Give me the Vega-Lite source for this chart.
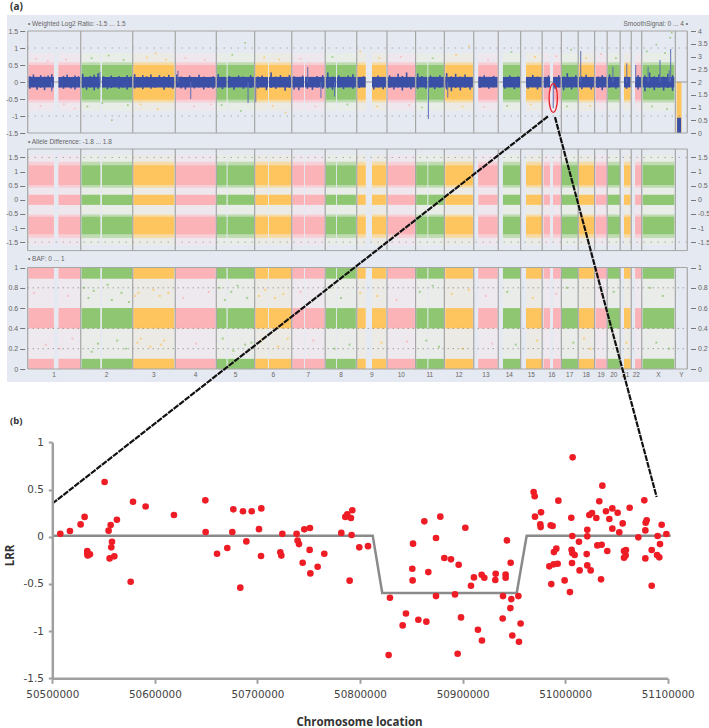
{"$schema":"https://vega.github.io/schema/vega-lite/v6.json","width":709,"height":728,"padding":0,"autosize":{"type":"none"},"background":"#ffffff","config":{"view":{"stroke":null},"axis":{"grid":false}},
"datasets":{
"frame":[{"x0":-97,"x1":3197,"y0":1.97,"y1":-8.82}],
"segs":[{"chrom":"1","start":3.8,"end":123,"state":"pink"},{"chrom":"1","start":144.5,"end":245.4,"state":"pink"},{"chrom":"2","start":253,"end":340.6,"state":"green"},{"chrom":"2","start":348.6,"end":489.4,"state":"green"},{"chrom":"3","start":495.5,"end":688,"state":"orange"},{"chrom":"4","start":694.4,"end":882,"state":"pink"},{"chrom":"5","start":886.8,"end":932.8,"state":"green"},{"chrom":"5","start":938.4,"end":1061.8,"state":"green"},{"chrom":"6","start":1068,"end":1127.5,"state":"orange"},{"chrom":"6","start":1132,"end":1235.4,"state":"orange"},{"chrom":"7","start":1241.5,"end":1296.4,"state":"pink"},{"chrom":"7","start":1301,"end":1393.5,"state":"pink"},{"chrom":"8","start":1399.6,"end":1446.6,"state":"green"},{"chrom":"8","start":1451,"end":1540,"state":"green"},{"chrom":"9","start":1546.5,"end":1586,"state":"orange"},{"chrom":"9","start":1615.4,"end":1681,"state":"orange"},{"chrom":"10","start":1689,"end":1817,"state":"pink"},{"chrom":"11","start":1823,"end":1875,"state":"green"},{"chrom":"11","start":1880,"end":1953,"state":"green"},{"chrom":"12","start":1959.4,"end":2089,"state":"orange"},{"chrom":"13","start":2114,"end":2205,"state":"pink"},{"chrom":"14","start":2230,"end":2310,"state":"green"},{"chrom":"15","start":2338,"end":2413,"state":"orange"},{"chrom":"16","start":2421,"end":2451,"state":"pink"},{"chrom":"16","start":2465,"end":2501,"state":"pink"},{"chrom":"17","start":2507,"end":2582,"state":"green"},{"chrom":"18","start":2586.6,"end":2657,"state":"orange"},{"chrom":"19","start":2665,"end":2717,"state":"pink"},{"chrom":"20","start":2722,"end":2779,"state":"green"},{"chrom":"21","start":2798,"end":2829,"state":"orange"},{"chrom":"22","start":2850,"end":2879,"state":"pink"},{"chrom":"X","start":2885.6,"end":3034,"state":"green"}],
"bounds":[{"pos":0},{"pos":248.7},{"pos":492.7},{"pos":692.5},{"pos":885},{"pos":1065},{"pos":1239},{"pos":1396},{"pos":1544},{"pos":1686},{"pos":1820},{"pos":1955},{"pos":2093},{"pos":2208},{"pos":2313},{"pos":2414},{"pos":2504},{"pos":2583},{"pos":2660},{"pos":2719},{"pos":2780},{"pos":2832},{"pos":2881},{"pos":3039},{"pos":3095}],
"labels":[{"name":"1","mid":124,"v":-0.06},{"name":"2","mid":370,"v":-0.06},{"name":"3","mid":592,"v":-0.06},{"name":"4","mid":788,"v":-0.06},{"name":"5","mid":975,"v":-0.06},{"name":"6","mid":1152,"v":-0.06},{"name":"7","mid":1317,"v":-0.06},{"name":"8","mid":1470,"v":-0.06},{"name":"9","mid":1615,"v":-0.06},{"name":"10","mid":1753,"v":-0.06},{"name":"11","mid":1887,"v":-0.06},{"name":"12","mid":2024,"v":-0.06},{"name":"13","mid":2150,"v":-0.06},{"name":"14","mid":2260,"v":-0.06},{"name":"15","mid":2363,"v":-0.06},{"name":"16","mid":2459,"v":-0.06},{"name":"17","mid":2543,"v":-0.06},{"name":"18","mid":2621,"v":-0.06},{"name":"19","mid":2690,"v":-0.06},{"name":"20","mid":2750,"v":-0.06},{"name":"21","mid":2806,"v":-0.06},{"name":"22","mid":2856,"v":-0.06},{"name":"X","mid":2960,"v":-0.06},{"name":"Y","mid":3067,"v":-0.06}],
"spikes":[{"pos":112.6,"v":-0.28},{"pos":339,"v":0.3},{"pos":705,"v":0.33},{"pos":765,"v":-0.5},{"pos":1034,"v":-0.62},{"pos":1070,"v":-0.6},{"pos":1314,"v":0.44},{"pos":1376,"v":-0.47},{"pos":1440,"v":-0.43},{"pos":1880,"v":-1.09},{"pos":1971,"v":-0.46},{"pos":2466,"v":-0.77},{"pos":2595,"v":0.91},{"pos":2746,"v":0.45},{"pos":2811,"v":0.55},{"pos":2853,"v":0.5},{"pos":2911,"v":0.45},{"pos":2967,"v":0.65},{"pos":3017,"v":0.97},{"pos":3010,"v":0.35}],
"jag":[{"pos":10,"lo":-0.2,"hi":0.17},{"pos":27,"lo":-0.15,"hi":0.22},{"pos":44,"lo":-0.23,"hi":0.14},{"pos":61,"lo":-0.17,"hi":0.2},{"pos":79,"lo":-0.24,"hi":0.16},{"pos":96,"lo":-0.14,"hi":0.19},{"pos":113,"lo":-0.21,"hi":0.23},{"pos":150,"lo":-0.16,"hi":0.14},{"pos":168,"lo":-0.2,"hi":0.18},{"pos":185,"lo":-0.13,"hi":0.21},{"pos":203,"lo":-0.19,"hi":0.15},{"pos":222,"lo":-0.22,"hi":0.19},{"pos":238,"lo":-0.15,"hi":0.17},{"pos":258,"lo":-0.18,"hi":0.24},{"pos":276,"lo":-0.23,"hi":0.15},{"pos":294,"lo":-0.16,"hi":0.18},{"pos":312,"lo":-0.24,"hi":0.21},{"pos":330,"lo":-0.2,"hi":0.26},{"pos":356,"lo":-0.16,"hi":0.17},{"pos":374,"lo":-0.21,"hi":0.14},{"pos":392,"lo":-0.18,"hi":0.19},{"pos":410,"lo":-0.14,"hi":0.15},{"pos":428,"lo":-0.2,"hi":0.18},{"pos":446,"lo":-0.17,"hi":0.14},{"pos":466,"lo":-0.22,"hi":0.2},{"pos":484,"lo":-0.15,"hi":0.16},{"pos":502,"lo":-0.19,"hi":0.23},{"pos":520,"lo":-0.16,"hi":0.15},{"pos":540,"lo":-0.21,"hi":0.2},{"pos":558,"lo":-0.15,"hi":0.17},{"pos":578,"lo":-0.2,"hi":0.22},{"pos":598,"lo":-0.17,"hi":0.15},{"pos":618,"lo":-0.14,"hi":0.2},{"pos":640,"lo":-0.23,"hi":0.17},{"pos":662,"lo":-0.16,"hi":0.21},{"pos":680,"lo":-0.2,"hi":0.14},{"pos":700,"lo":-0.15,"hi":0.22},{"pos":720,"lo":-0.19,"hi":0.16},{"pos":740,"lo":-0.22,"hi":0.14},{"pos":760,"lo":-0.15,"hi":0.19},{"pos":782,"lo":-0.19,"hi":0.15},{"pos":804,"lo":-0.16,"hi":0.21},{"pos":826,"lo":-0.22,"hi":0.16},{"pos":848,"lo":-0.17,"hi":0.13},{"pos":870,"lo":-0.2,"hi":0.17},{"pos":894,"lo":-0.16,"hi":0.23},{"pos":914,"lo":-0.21,"hi":0.15},{"pos":946,"lo":-0.17,"hi":0.18},{"pos":968,"lo":-0.23,"hi":0.14},{"pos":990,"lo":-0.15,"hi":0.19},{"pos":1012,"lo":-0.2,"hi":0.16},{"pos":1046,"lo":-0.18,"hi":0.2},{"pos":1080,"lo":-0.19,"hi":0.16},{"pos":1100,"lo":-0.15,"hi":0.19},{"pos":1120,"lo":-0.24,"hi":0.15},{"pos":1142,"lo":-0.18,"hi":0.28},{"pos":1164,"lo":-0.2,"hi":0.16},{"pos":1186,"lo":-0.15,"hi":0.2},{"pos":1208,"lo":-0.26,"hi":0.14},{"pos":1228,"lo":-0.17,"hi":0.21},{"pos":1250,"lo":-0.22,"hi":0.17},{"pos":1272,"lo":-0.24,"hi":0.14},{"pos":1290,"lo":-0.15,"hi":0.19},{"pos":1312,"lo":-0.2,"hi":0.16},{"pos":1336,"lo":-0.23,"hi":0.13},{"pos":1358,"lo":-0.17,"hi":0.18},{"pos":1384,"lo":-0.2,"hi":0.2},{"pos":1408,"lo":-0.19,"hi":0.28},{"pos":1430,"lo":-0.23,"hi":0.16},{"pos":1460,"lo":-0.16,"hi":0.2},{"pos":1482,"lo":-0.21,"hi":0.14},{"pos":1504,"lo":-0.15,"hi":0.19},{"pos":1526,"lo":-0.2,"hi":0.23},{"pos":1556,"lo":-0.18,"hi":0.14},{"pos":1576,"lo":-0.15,"hi":0.17},{"pos":1624,"lo":-0.22,"hi":0.15},{"pos":1644,"lo":-0.16,"hi":0.19},{"pos":1668,"lo":-0.21,"hi":0.14},{"pos":1698,"lo":-0.17,"hi":0.2},{"pos":1718,"lo":-0.22,"hi":0.15},{"pos":1738,"lo":-0.16,"hi":0.24},{"pos":1758,"lo":-0.25,"hi":0.18},{"pos":1778,"lo":-0.17,"hi":0.28},{"pos":1798,"lo":-0.21,"hi":0.15},{"pos":1830,"lo":-0.2,"hi":0.25},{"pos":1850,"lo":-0.15,"hi":0.18},{"pos":1868,"lo":-0.2,"hi":0.14},{"pos":1890,"lo":-0.16,"hi":0.19},{"pos":1910,"lo":-0.21,"hi":0.15},{"pos":1934,"lo":-0.17,"hi":0.2},{"pos":1966,"lo":-0.22,"hi":0.26},{"pos":1988,"lo":-0.27,"hi":0.17},{"pos":2008,"lo":-0.18,"hi":0.24},{"pos":2030,"lo":-0.25,"hi":0.16},{"pos":2052,"lo":-0.17,"hi":0.22},{"pos":2076,"lo":-0.23,"hi":0.15},{"pos":2122,"lo":-0.18,"hi":0.16},{"pos":2142,"lo":-0.14,"hi":0.2},{"pos":2164,"lo":-0.2,"hi":0.14},{"pos":2186,"lo":-0.16,"hi":0.18},{"pos":2240,"lo":-0.2,"hi":0.15},{"pos":2262,"lo":-0.15,"hi":0.19},{"pos":2284,"lo":-0.21,"hi":0.14},{"pos":2302,"lo":-0.16,"hi":0.17},{"pos":2348,"lo":-0.2,"hi":0.15},{"pos":2370,"lo":-0.15,"hi":0.21},{"pos":2392,"lo":-0.22,"hi":0.16},{"pos":2428,"lo":-0.17,"hi":0.14},{"pos":2444,"lo":-0.14,"hi":0.19},{"pos":2475,"lo":-0.2,"hi":0.15},{"pos":2492,"lo":-0.16,"hi":0.2},{"pos":2515,"lo":-0.24,"hi":0.16},{"pos":2532,"lo":-0.16,"hi":0.26},{"pos":2552,"lo":-0.22,"hi":0.15},{"pos":2572,"lo":-0.15,"hi":0.2},{"pos":2600,"lo":-0.21,"hi":0.16},{"pos":2620,"lo":-0.15,"hi":0.21},{"pos":2644,"lo":-0.22,"hi":0.14},{"pos":2676,"lo":-0.18,"hi":0.16},{"pos":2696,"lo":-0.24,"hi":0.2},{"pos":2730,"lo":-0.17,"hi":0.22},{"pos":2760,"lo":-0.2,"hi":0.15},{"pos":2810,"lo":-0.2,"hi":0.16},{"pos":2864,"lo":-0.22,"hi":0.2},{"pos":2896,"lo":-0.27,"hi":0.19},{"pos":2918,"lo":-0.18,"hi":0.28},{"pos":2940,"lo":-0.24,"hi":0.17},{"pos":2962,"lo":-0.17,"hi":0.22},{"pos":2984,"lo":-0.25,"hi":0.16},{"pos":3004,"lo":-0.18,"hi":0.24},{"pos":3026,"lo":-0.26,"hi":0.2}],
"specksLrr":[{"pos":40,"v":0.68,"state":"pink"},{"pos":95,"v":0.62,"state":"pink"},{"pos":180,"v":0.66,"state":"pink"},{"pos":60,"v":-0.7,"state":"pink"},{"pos":170,"v":-0.65,"state":"pink"},{"pos":220,"v":-0.78,"state":"pink"},{"pos":300,"v":0.7,"state":"green"},{"pos":380,"v":0.78,"state":"green"},{"pos":450,"v":0.65,"state":"green"},{"pos":280,"v":-0.72,"state":"green"},{"pos":350,"v":-0.62,"state":"green"},{"pos":395,"v":-1.12,"state":"green"},{"pos":470,"v":-0.68,"state":"green"},{"pos":560,"v":0.72,"state":"orange"},{"pos":600,"v":0.84,"state":"orange"},{"pos":650,"v":0.66,"state":"orange"},{"pos":530,"v":-0.66,"state":"orange"},{"pos":610,"v":-0.8,"state":"orange"},{"pos":740,"v":0.7,"state":"pink"},{"pos":830,"v":0.64,"state":"pink"},{"pos":780,"v":-0.72,"state":"pink"},{"pos":860,"v":-0.66,"state":"pink"},{"pos":960,"v":0.8,"state":"green"},{"pos":1020,"v":1.15,"state":"green"},{"pos":910,"v":-0.68,"state":"green"},{"pos":1000,"v":-0.85,"state":"green"},{"pos":1110,"v":0.72,"state":"orange"},{"pos":1180,"v":0.66,"state":"orange"},{"pos":1150,"v":-0.7,"state":"orange"},{"pos":1210,"v":-0.9,"state":"orange"},{"pos":1280,"v":0.68,"state":"pink"},{"pos":1350,"v":-0.72,"state":"pink"},{"pos":1430,"v":0.74,"state":"green"},{"pos":1500,"v":-0.66,"state":"green"},{"pos":1560,"v":0.9,"state":"orange"},{"pos":1650,"v":0.7,"state":"orange"},{"pos":1640,"v":-0.72,"state":"orange"},{"pos":1750,"v":0.74,"state":"pink"},{"pos":1790,"v":-0.68,"state":"pink"},{"pos":1900,"v":0.7,"state":"green"},{"pos":1850,"v":-0.75,"state":"green"},{"pos":2010,"v":0.8,"state":"orange"},{"pos":2070,"v":1.05,"state":"orange"},{"pos":2040,"v":-0.72,"state":"orange"},{"pos":2160,"v":0.66,"state":"pink"},{"pos":2140,"v":-0.74,"state":"pink"},{"pos":2270,"v":0.88,"state":"green"},{"pos":2250,"v":-0.7,"state":"green"},{"pos":2380,"v":0.74,"state":"orange"},{"pos":2360,"v":-0.66,"state":"orange"},{"pos":2480,"v":0.76,"state":"pink"},{"pos":2550,"v":0.95,"state":"green"},{"pos":2530,"v":-0.72,"state":"green"},{"pos":2620,"v":0.7,"state":"orange"},{"pos":2640,"v":-0.7,"state":"orange"},{"pos":2690,"v":0.82,"state":"pink"},{"pos":2760,"v":0.7,"state":"green"},{"pos":2905,"v":0.9,"state":"green"},{"pos":2950,"v":1.1,"state":"green"},{"pos":2990,"v":0.85,"state":"green"},{"pos":3015,"v":1.3,"state":"green"},{"pos":3022,"v":1.45,"state":"green"},{"pos":2930,"v":-0.72,"state":"green"},{"pos":3000,"v":-0.8,"state":"green"}],
"specksBaf":[{"pos":30,"v":0.75,"state":"pink"},{"pos":85,"v":0.24,"state":"pink"},{"pos":190,"v":0.72,"state":"pink"},{"pos":210,"v":0.3,"state":"pink"},{"pos":150,"v":0.2,"state":"pink"},{"pos":265,"v":0.8,"state":"green"},{"pos":285,"v":0.7,"state":"green"},{"pos":310,"v":0.77,"state":"green"},{"pos":330,"v":0.25,"state":"green"},{"pos":375,"v":0.83,"state":"green"},{"pos":395,"v":0.68,"state":"green"},{"pos":420,"v":0.28,"state":"green"},{"pos":440,"v":0.75,"state":"green"},{"pos":460,"v":0.2,"state":"green"},{"pos":300,"v":0.17,"state":"green"},{"pos":475,"v":0.66,"state":"green"},{"pos":505,"v":0.72,"state":"orange"},{"pos":520,"v":0.75,"state":"orange"},{"pos":515,"v":0.26,"state":"orange"},{"pos":530,"v":0.3,"state":"orange"},{"pos":590,"v":0.78,"state":"orange"},{"pos":620,"v":0.72,"state":"orange"},{"pos":625,"v":0.24,"state":"orange"},{"pos":640,"v":0.28,"state":"orange"},{"pos":660,"v":0.75,"state":"orange"},{"pos":575,"v":0.22,"state":"orange"},{"pos":730,"v":0.7,"state":"pink"},{"pos":790,"v":0.25,"state":"pink"},{"pos":850,"v":0.76,"state":"pink"},{"pos":900,"v":0.8,"state":"green"},{"pos":925,"v":0.68,"state":"green"},{"pos":955,"v":0.76,"state":"green"},{"pos":985,"v":0.82,"state":"green"},{"pos":1030,"v":0.7,"state":"green"},{"pos":1050,"v":0.26,"state":"green"},{"pos":915,"v":0.3,"state":"green"},{"pos":965,"v":0.18,"state":"green"},{"pos":1020,"v":0.24,"state":"green"},{"pos":1085,"v":0.72,"state":"orange"},{"pos":1115,"v":0.78,"state":"orange"},{"pos":1160,"v":0.7,"state":"orange"},{"pos":1200,"v":0.74,"state":"orange"},{"pos":1095,"v":0.28,"state":"orange"},{"pos":1175,"v":0.22,"state":"orange"},{"pos":1220,"v":0.3,"state":"orange"},{"pos":1280,"v":0.76,"state":"pink"},{"pos":1340,"v":0.28,"state":"pink"},{"pos":1420,"v":0.8,"state":"green"},{"pos":1470,"v":0.7,"state":"green"},{"pos":1510,"v":0.24,"state":"green"},{"pos":1440,"v":0.2,"state":"green"},{"pos":1560,"v":0.75,"state":"orange"},{"pos":1640,"v":0.72,"state":"orange"},{"pos":1660,"v":0.26,"state":"orange"},{"pos":1730,"v":0.68,"state":"pink"},{"pos":1780,"v":0.27,"state":"pink"},{"pos":1840,"v":0.76,"state":"green"},{"pos":1900,"v":0.82,"state":"green"},{"pos":1930,"v":0.22,"state":"green"},{"pos":1870,"v":0.28,"state":"green"},{"pos":1990,"v":0.74,"state":"orange"},{"pos":2040,"v":0.2,"state":"orange"},{"pos":2070,"v":0.78,"state":"orange"},{"pos":2150,"v":0.72,"state":"pink"},{"pos":2180,"v":0.25,"state":"pink"},{"pos":2250,"v":0.76,"state":"green"},{"pos":2290,"v":0.24,"state":"green"},{"pos":2370,"v":0.7,"state":"orange"},{"pos":2390,"v":0.28,"state":"orange"},{"pos":2480,"v":0.74,"state":"pink"},{"pos":2530,"v":0.8,"state":"green"},{"pos":2560,"v":0.26,"state":"green"},{"pos":2610,"v":0.3,"state":"orange"},{"pos":2640,"v":0.2,"state":"orange"},{"pos":2690,"v":0.74,"state":"pink"},{"pos":2750,"v":0.76,"state":"green"},{"pos":2810,"v":0.26,"state":"orange"},{"pos":2920,"v":0.8,"state":"green"},{"pos":2980,"v":0.72,"state":"green"},{"pos":2950,"v":0.26,"state":"green"},{"pos":3010,"v":0.2,"state":"green"}],
"points":[{"pos":50507800,"lrr":0.03},{"pos":50517200,"lrr":0.06},{"pos":50527600,"lrr":0.13},{"pos":50531500,"lrr":0.21},{"pos":50551000,"lrr":0.58},{"pos":50578700,"lrr":0.37},{"pos":50591000,"lrr":0.32},{"pos":50618600,"lrr":0.23},{"pos":50649200,"lrr":0.385},{"pos":50649500,"lrr":0.05},{"pos":50676500,"lrr":0.29},{"pos":50675500,"lrr":0.05},{"pos":50685900,"lrr":0.27},{"pos":50694400,"lrr":0.27},{"pos":50703800,"lrr":0.3},{"pos":50701500,"lrr":0.08},{"pos":50689200,"lrr":-0.05},{"pos":50660600,"lrr":-0.18},{"pos":50670600,"lrr":-0.12},{"pos":50703500,"lrr":-0.205},{"pos":50683300,"lrr":-0.54},{"pos":50576400,"lrr":-0.477},{"pos":50554900,"lrr":0.064},{"pos":50556900,"lrr":0.124},{"pos":50563000,"lrr":0.18},{"pos":50558200,"lrr":-0.053},{"pos":50557500,"lrr":-0.113},{"pos":50555900,"lrr":-0.23},{"pos":50560500,"lrr":-0.208},{"pos":50534100,"lrr":-0.152},{"pos":50534100,"lrr":-0.18},{"pos":50534500,"lrr":-0.198},{"pos":50536700,"lrr":-0.187},{"pos":50724300,"lrr":0.03},{"pos":50722300,"lrr":-0.166},{"pos":50723300,"lrr":-0.2},{"pos":50738200,"lrr":0.03},{"pos":50739200,"lrr":-0.04},{"pos":50740500,"lrr":-0.078},{"pos":50745700,"lrr":0.078},{"pos":50751200,"lrr":0.092},{"pos":50750900,"lrr":-0.14},{"pos":50744100,"lrr":-0.276},{"pos":50758700,"lrr":-0.318},{"pos":50751600,"lrr":-0.389},{"pos":50765200,"lrr":-0.18},{"pos":50781800,"lrr":0.04},{"pos":50785700,"lrr":0.21},{"pos":50787600,"lrr":0.237},{"pos":50791200,"lrr":0.198},{"pos":50792500,"lrr":0.28},{"pos":50791800,"lrr":0.018},{"pos":50789900,"lrr":-0.466},{"pos":50799300,"lrr":-0.113},{"pos":50807800,"lrr":-0.1},{"pos":50829200,"lrr":-0.647},{"pos":50827900,"lrr":-1.254},{"pos":50844800,"lrr":-0.813},{"pos":50841600,"lrr":-0.94},{"pos":50856900,"lrr":-0.88},{"pos":50864700,"lrr":-0.9},{"pos":50851300,"lrr":-0.463},{"pos":50851000,"lrr":-0.34},{"pos":50851700,"lrr":-0.074},{"pos":50862700,"lrr":0.163},{"pos":50878300,"lrr":0.212},{"pos":50874100,"lrr":-0.014},{"pos":50866600,"lrr":-0.375},{"pos":50874100,"lrr":-0.629},{"pos":50882200,"lrr":-0.226},{"pos":50888700,"lrr":-0.24},{"pos":50896200,"lrr":-0.297},{"pos":50902700,"lrr":0.095},{"pos":50892600,"lrr":-0.611},{"pos":50898500,"lrr":-0.855},{"pos":50895200,"lrr":-1.24},{"pos":50915000,"lrr":-0.986},{"pos":50918900,"lrr":-1.1},{"pos":50908200,"lrr":-0.519},{"pos":50911100,"lrr":-0.431},{"pos":50918600,"lrr":-0.403},{"pos":50921200,"lrr":-0.435},{"pos":50932300,"lrr":-0.392},{"pos":50931900,"lrr":-0.459},{"pos":50942000,"lrr":-0.4},{"pos":50942000,"lrr":-0.435},{"pos":50943300,"lrr":-0.039},{"pos":50946900,"lrr":-0.276},{"pos":50939400,"lrr":-0.629},{"pos":50947500,"lrr":-0.661},{"pos":50954400,"lrr":-0.629},{"pos":50946600,"lrr":-0.756},{"pos":50939100,"lrr":-0.866},{"pos":50956600,"lrr":-0.919},{"pos":50948500,"lrr":-1.046},{"pos":50955000,"lrr":-1.113},{"pos":50969300,"lrr":0.473},{"pos":50970300,"lrr":0.428},{"pos":50970600,"lrr":0.212},{"pos":50976500,"lrr":0.258},{"pos":50975800,"lrr":0.131},{"pos":50976100,"lrr":0.102},{"pos":50985900,"lrr":0.12},{"pos":50987800,"lrr":0.113},{"pos":50993400,"lrr":0.382},{"pos":51007300,"lrr":0.841},{"pos":51036300,"lrr":0.541},{"pos":51033300,"lrr":0.375},{"pos":51006000,"lrr":0.201},{"pos":51007000,"lrr":0.007},{"pos":51013500,"lrr":-0.053},{"pos":51021600,"lrr":0.074},{"pos":51021600,"lrr":0.004},{"pos":50991400,"lrr":-0.127},{"pos":50989100,"lrr":-0.163},{"pos":50984600,"lrr":-0.314},{"pos":50988800,"lrr":-0.293},{"pos":50992700,"lrr":-0.286},{"pos":50986500,"lrr":-0.502},{"pos":50999500,"lrr":-0.463},{"pos":51004700,"lrr":-0.587},{"pos":51006300,"lrr":-0.138},{"pos":51007000,"lrr":-0.173},{"pos":51009300,"lrr":-0.194},{"pos":51006700,"lrr":-0.279},{"pos":51021000,"lrr":-0.184},{"pos":51021600,"lrr":-0.304},{"pos":51014100,"lrr":-0.357},{"pos":51024900,"lrr":-0.357},{"pos":51035000,"lrr":-0.452},{"pos":51031400,"lrr":-0.092},{"pos":51035600,"lrr":-0.085},{"pos":51041100,"lrr":-0.152},{"pos":51023600,"lrr":0.23},{"pos":51026200,"lrr":0.251},{"pos":51030400,"lrr":0.198},{"pos":51039800,"lrr":0.269},{"pos":51046000,"lrr":0.3},{"pos":51051200,"lrr":0.254},{"pos":51043100,"lrr":0.187},{"pos":51046000,"lrr":0.085},{"pos":51052800,"lrr":0.046},{"pos":51056100,"lrr":0.141},{"pos":51062900,"lrr":0.307},{"pos":51077200,"lrr":0.385},{"pos":51079500,"lrr":0.173},{"pos":51078500,"lrr":0.148},{"pos":51078200,"lrr":0.067},{"pos":51071400,"lrr":-0.007},{"pos":51059300,"lrr":-0.141},{"pos":51057400,"lrr":-0.152},{"pos":51059000,"lrr":-0.198},{"pos":51057400,"lrr":-0.223},{"pos":51078200,"lrr":-0.23},{"pos":51084400,"lrr":-0.141},{"pos":51084400,"lrr":-0.519},{"pos":51089600,"lrr":-0.194},{"pos":51091800,"lrr":-0.219},{"pos":51092500,"lrr":-0.078},{"pos":51090200,"lrr":0.007},{"pos":51094100,"lrr":0.127},{"pos":51098700,"lrr":0.028}],
"step":[{"pos":50500000,"fit":0.01},{"pos":50812400,"fit":0.01},{"pos":50821700,"fit":-0.597},{"pos":50952800,"fit":-0.597},{"pos":50962500,"fit":0.01},{"pos":51102900,"fit":0.01}],
"connector":[{"side":"left","pos":50500000,"v":0.35},{"side":"left","pos":50983600,"v":4.455},{"side":"right","pos":50990100,"v":4.445},{"side":"right","pos":51089250,"v":0.42}]
},
"layer":[
{"data":{"name":"frame"},"mark":{"type":"rect","fill":"#e5e9f1"},"encoding":{"x":{"field":"x0","type":"quantitative","scale":{"domain":[0,3095],"range":[27.7,687.3]},"axis":null},"x2":{"field":"x1"},"y":{"field":"y0","type":"quantitative","scale":{"domain":[-1.5,1.5],"range":[133,31]},"axis":null},"y2":{"field":"y1"}}},

{"data":{"name":"segs"},"mark":"rect","encoding":{"x":{"field":"start","type":"quantitative","scale":{"domain":[0,3095],"range":[27.7,687.3]},"axis":null},"x2":{"field":"end"},"y":{"datum":0.85,"type":"quantitative","scale":{"domain":[-1.5,1.5],"range":[133,31]},"axis":null},"y2":{"datum":-0.85},"color":{"field":"state","type":"nominal","legend":null,"scale":{"domain":["pink","green","orange"],"range":["#eee8ee","#e8ede7","#eceae4"]}}}},
{"data":{"name":"segs"},"mark":"rect","encoding":{"x":{"field":"start","type":"quantitative","scale":{"domain":[0,3095],"range":[27.7,687.3]},"axis":null},"x2":{"field":"end"},"y":{"datum":0.58,"type":"quantitative","scale":{"domain":[-1.5,1.5],"range":[133,31]},"axis":null},"y2":{"datum":-0.6},"color":{"field":"state","type":"nominal","legend":null,"scale":{"domain":["pink","green","orange"],"range":["#f6d0d6","#bfdbb2","#f5dba6"]}}}},
{"data":{"name":"segs"},"mark":"rect","encoding":{"x":{"field":"start","type":"quantitative","scale":{"domain":[0,3095],"range":[27.7,687.3]},"axis":null},"x2":{"field":"end"},"y":{"datum":0.5,"type":"quantitative","scale":{"domain":[-1.5,1.5],"range":[133,31]},"axis":null},"y2":{"datum":-0.52},"color":{"field":"state","type":"nominal","legend":null,"scale":{"domain":["pink","green","orange"],"range":["#fbb3b7","#8fc672","#fec55f"]}}}},
{"data":{"name":"specksLrr"},"mark":{"type":"square","size":3,"opacity":0.8},"encoding":{"x":{"field":"pos","type":"quantitative","scale":{"domain":[0,3095],"range":[27.7,687.3]},"axis":null},"y":{"field":"v","type":"quantitative","scale":{"domain":[-1.5,1.5],"range":[133,31]},"axis":null},"color":{"field":"state","type":"nominal","legend":null,"scale":{"domain":["pink","green","orange"],"range":["#fbb3b7","#8fc672","#fec55f"]}}}},
{"data":{"values":[{"start":3045,"end":3068,"low":-1.5,"high":0}]},"mark":{"type":"rect","fill":"#fec55f"},"encoding":{"x":{"field":"start","type":"quantitative","scale":{"domain":[0,3095],"range":[27.7,687.3]},"axis":null},"x2":{"field":"end"},"y":{"field":"high","type":"quantitative","scale":{"domain":[-1.5,1.5],"range":[133,31]},"axis":null},"y2":{"field":"low"}}},
{"data":{"values":[{"tick":0}]},"mark":{"type":"rule","stroke":"#9a9a9a","strokeWidth":1},"encoding":{"x":{"datum":0,"type":"quantitative","scale":{"domain":[0,3095],"range":[27.7,687.3]},"axis":null},"x2":{"datum":3095},"y":{"field":"tick","type":"quantitative","scale":{"domain":[-1.5,1.5],"range":[133,31]},"axis":null}}},
{"data":{"name":"segs"},"mark":{"type":"rect","fill":"#3a50a6"},"encoding":{"x":{"field":"start","type":"quantitative","scale":{"domain":[0,3095],"range":[27.7,687.3]},"axis":null},"x2":{"field":"end"},"y":{"datum":0.15,"type":"quantitative","scale":{"domain":[-1.5,1.5],"range":[133,31]},"axis":null},"y2":{"datum":-0.16}}},
{"data":{"name":"jag"},"mark":{"type":"rule","stroke":"#3a50a6","strokeWidth":1.6},"encoding":{"x":{"field":"pos","type":"quantitative","scale":{"domain":[0,3095],"range":[27.7,687.3]},"axis":null},"y":{"field":"hi","type":"quantitative","scale":{"domain":[-1.5,1.5],"range":[133,31]},"axis":null},"y2":{"field":"lo"}}},
{"data":{"name":"spikes"},"mark":{"type":"rule","stroke":"#5a6db8","strokeWidth":1},"encoding":{"x":{"field":"pos","type":"quantitative","scale":{"domain":[0,3095],"range":[27.7,687.3]},"axis":null},"y":{"field":"v","type":"quantitative","scale":{"domain":[-1.5,1.5],"range":[133,31]},"axis":null},"y2":{"datum":0}}},
{"data":{"values":[{"start":3047,"end":3066,"low":-1.5,"high":-1.05}]},"mark":{"type":"rect","fill":"#3a50a6"},"encoding":{"x":{"field":"start","type":"quantitative","scale":{"domain":[0,3095],"range":[27.7,687.3]},"axis":null},"x2":{"field":"end"},"y":{"field":"high","type":"quantitative","scale":{"domain":[-1.5,1.5],"range":[133,31]},"axis":null},"y2":{"field":"low"}}},
{"data":{"values":[{"tick":1},{"tick":-1}]},"mark":{"type":"rule","stroke":"#777777","strokeWidth":0.8,"strokeDash":[1,6]},"encoding":{"x":{"datum":0,"type":"quantitative","scale":{"domain":[0,3095],"range":[27.7,687.3]},"axis":null},"x2":{"datum":3095},"y":{"field":"tick","type":"quantitative","scale":{"domain":[-1.5,1.5],"range":[133,31]},"axis":{"orient":"left","zindex":1,"offset":-24.7,"values":[1.5,1,0.5,0,-0.5,-1,-1.5],"title":null,"domain":false,"tickColor":"#777777","tickSize":5,"labelColor":"#666666","labelFontSize":7,"labelFont":"Liberation Sans","labelPadding":2,"labelExpr":"datum.value+''"}}}},
{"data":{"values":[{"tick":0}]},"mark":{"type":"point","opacity":0},"encoding":{"x":{"datum":0,"type":"quantitative","scale":{"domain":[0,3095],"range":[27.7,687.3]},"axis":null},"y":{"field":"tick","type":"quantitative","scale":{"domain":[0,4],"range":[133,31]},"axis":{"orient":"right","zindex":1,"offset":-18.5,"values":[4,3.5,3,2.5,2,1.5,1,0.5,0],"title":null,"domain":false,"tickColor":"#777777","tickSize":5,"labelColor":"#666666","labelFontSize":7,"labelFont":"Liberation Sans","labelPadding":2,"labelExpr":"datum.value+''"}}}},
{"data":{"name":"bounds"},"mark":{"type":"rule","stroke":"#a6a6a6","strokeWidth":1.2},"encoding":{"x":{"field":"pos","type":"quantitative","scale":{"domain":[0,3095],"range":[27.7,687.3]},"axis":null},"y":{"datum":-1.5,"type":"quantitative","scale":{"domain":[-1.5,1.5],"range":[133,31]},"axis":null},"y2":{"datum":1.5}}},
{"data":{"values":[{"v":-1.5},{"v":1.5}]},"mark":{"type":"rule","stroke":"#a6a6a6","strokeWidth":1},"encoding":{"x":{"datum":0,"type":"quantitative","scale":{"domain":[0,3095],"range":[27.7,687.3]},"axis":null},"x2":{"datum":3095},"y":{"field":"v","type":"quantitative","scale":{"domain":[-1.5,1.5],"range":[133,31]},"axis":null}}},
{"data":{"values":[{"text":"•   Weighted Log2 Ratio: -1.5 ... 1.5","pos":1.4,"v":1.71}]},"mark":{"type":"text","align":"left","baseline":"middle","font":"Liberation Sans","fontSize":6.5,"fill":"#666666"},"encoding":{"text":{"field":"text"},"x":{"field":"pos","type":"quantitative","scale":{"domain":[0,3095],"range":[27.7,687.3]},"axis":null},"y":{"field":"v","type":"quantitative","scale":{"domain":[-1.5,1.5],"range":[133,31]},"axis":null}}},
{"data":{"values":[{"text":"SmoothSignal: 0 ... 4   •","pos":3098,"v":1.71}]},"mark":{"type":"text","align":"right","baseline":"middle","font":"Liberation Sans","fontSize":6.5,"fill":"#666666"},"encoding":{"text":{"field":"text"},"x":{"field":"pos","type":"quantitative","scale":{"domain":[0,3095],"range":[27.7,687.3]},"axis":null},"y":{"field":"v","type":"quantitative","scale":{"domain":[-1.5,1.5],"range":[133,31]},"axis":null}}},

{"data":{"name":"segs"},"mark":"rect","encoding":{"x":{"field":"start","type":"quantitative","scale":{"domain":[0,3095],"range":[27.7,687.3]},"axis":null},"x2":{"field":"end"},"y":{"datum":1.6,"type":"quantitative","scale":{"domain":[-1.8,1.8],"range":[250.6,149]},"axis":null},"y2":{"datum":-1.6},"color":{"field":"state","type":"nominal","legend":null,"scale":{"domain":["pink","green","orange"],"range":["#eee8ee","#e8ede7","#eceae4"]}}}},
{"data":{"name":"segs"},"mark":"rect","encoding":{"x":{"field":"start","type":"quantitative","scale":{"domain":[0,3095],"range":[27.7,687.3]},"axis":null},"x2":{"field":"end"},"y":{"datum":1.35,"type":"quantitative","scale":{"domain":[-1.8,1.8],"range":[250.6,149]},"axis":null},"y2":{"datum":0.43},"color":{"field":"state","type":"nominal","legend":null,"scale":{"domain":["pink","green","orange"],"range":["#f6d0d6","#bfdbb2","#f5dba6"]}}}},
{"data":{"name":"segs"},"mark":"rect","encoding":{"x":{"field":"start","type":"quantitative","scale":{"domain":[0,3095],"range":[27.7,687.3]},"axis":null},"x2":{"field":"end"},"y":{"datum":1.22,"type":"quantitative","scale":{"domain":[-1.8,1.8],"range":[250.6,149]},"axis":null},"y2":{"datum":0.52},"color":{"field":"state","type":"nominal","legend":null,"scale":{"domain":["pink","green","orange"],"range":["#fbb3b7","#8fc672","#fec55f"]}}}},
{"data":{"name":"segs"},"mark":"rect","encoding":{"x":{"field":"start","type":"quantitative","scale":{"domain":[0,3095],"range":[27.7,687.3]},"axis":null},"x2":{"field":"end"},"y":{"datum":0.18,"type":"quantitative","scale":{"domain":[-1.8,1.8],"range":[250.6,149]},"axis":null},"y2":{"datum":-0.18},"color":{"field":"state","type":"nominal","legend":null,"scale":{"domain":["pink","green","orange"],"range":["#fbb3b7","#8fc672","#fec55f"]}}}},
{"data":{"name":"segs"},"mark":"rect","encoding":{"x":{"field":"start","type":"quantitative","scale":{"domain":[0,3095],"range":[27.7,687.3]},"axis":null},"x2":{"field":"end"},"y":{"datum":-0.52,"type":"quantitative","scale":{"domain":[-1.8,1.8],"range":[250.6,149]},"axis":null},"y2":{"datum":-1.35},"color":{"field":"state","type":"nominal","legend":null,"scale":{"domain":["pink","green","orange"],"range":["#f6d0d6","#bfdbb2","#f5dba6"]}}}},
{"data":{"name":"segs"},"mark":"rect","encoding":{"x":{"field":"start","type":"quantitative","scale":{"domain":[0,3095],"range":[27.7,687.3]},"axis":null},"x2":{"field":"end"},"y":{"datum":-0.6,"type":"quantitative","scale":{"domain":[-1.8,1.8],"range":[250.6,149]},"axis":null},"y2":{"datum":-1.22},"color":{"field":"state","type":"nominal","legend":null,"scale":{"domain":["pink","green","orange"],"range":["#fbb3b7","#8fc672","#fec55f"]}}}},
{"data":{"values":[{"tick":1.5},{"tick":-1.5}]},"mark":{"type":"rule","stroke":"#777777","strokeWidth":0.8,"strokeDash":[1,6]},"encoding":{"x":{"datum":0,"type":"quantitative","scale":{"domain":[0,3095],"range":[27.7,687.3]},"axis":null},"x2":{"datum":3095},"y":{"field":"tick","type":"quantitative","scale":{"domain":[-1.8,1.8],"range":[250.6,149]},"axis":{"orient":"left","zindex":1,"offset":-24.7,"values":[1.5,1,0.5,0,-0.5,-1,-1.5],"title":null,"domain":false,"tickColor":"#777777","tickSize":5,"labelColor":"#666666","labelFontSize":7,"labelFont":"Liberation Sans","labelPadding":2,"labelExpr":"datum.value+''"}}}},
{"data":{"values":[{"tick":0}]},"mark":{"type":"point","opacity":0},"encoding":{"x":{"datum":0,"type":"quantitative","scale":{"domain":[0,3095],"range":[27.7,687.3]},"axis":null},"y":{"field":"tick","type":"quantitative","scale":{"domain":[-1.8,1.8],"range":[250.6,149]},"axis":{"orient":"right","zindex":1,"offset":-18.5,"values":[1.5,1,0.5,0,-0.5,-1,-1.5],"title":null,"domain":false,"tickColor":"#777777","tickSize":5,"labelColor":"#666666","labelFontSize":7,"labelFont":"Liberation Sans","labelPadding":2,"labelExpr":"datum.value+''"}}}},
{"data":{"name":"bounds"},"mark":{"type":"rule","stroke":"#a6a6a6","strokeWidth":1.2},"encoding":{"x":{"field":"pos","type":"quantitative","scale":{"domain":[0,3095],"range":[27.7,687.3]},"axis":null},"y":{"datum":-1.8,"type":"quantitative","scale":{"domain":[-1.8,1.8],"range":[250.6,149]},"axis":null},"y2":{"datum":1.8}}},
{"data":{"values":[{"v":-1.8},{"v":1.8}]},"mark":{"type":"rule","stroke":"#a6a6a6","strokeWidth":1},"encoding":{"x":{"datum":0,"type":"quantitative","scale":{"domain":[0,3095],"range":[27.7,687.3]},"axis":null},"x2":{"datum":3095},"y":{"field":"v","type":"quantitative","scale":{"domain":[-1.8,1.8],"range":[250.6,149]},"axis":null}}},
{"data":{"values":[{"text":"•   Allele Difference: -1.8 ... 1.8","pos":1.4,"v":2.06}]},"mark":{"type":"text","align":"left","baseline":"middle","font":"Liberation Sans","fontSize":6.5,"fill":"#666666"},"encoding":{"text":{"field":"text"},"x":{"field":"pos","type":"quantitative","scale":{"domain":[0,3095],"range":[27.7,687.3]},"axis":null},"y":{"field":"v","type":"quantitative","scale":{"domain":[-1.8,1.8],"range":[250.6,149]},"axis":null}}},

{"data":{"name":"segs"},"mark":"rect","encoding":{"x":{"field":"start","type":"quantitative","scale":{"domain":[0,3095],"range":[27.7,687.3]},"axis":null},"x2":{"field":"end"},"y":{"datum":1,"type":"quantitative","scale":{"domain":[0,1],"range":[369,267.5]},"axis":null},"y2":{"datum":0},"color":{"field":"state","type":"nominal","legend":null,"scale":{"domain":["pink","green","orange"],"range":["#ede9ee","#e9ece8","#ebeae5"]}}}},
{"data":{"name":"specksBaf"},"mark":{"type":"square","size":4,"opacity":0.75},"encoding":{"x":{"field":"pos","type":"quantitative","scale":{"domain":[0,3095],"range":[27.7,687.3]},"axis":null},"y":{"field":"v","type":"quantitative","scale":{"domain":[0,1],"range":[369,267.5]},"axis":null},"color":{"field":"state","type":"nominal","legend":null,"scale":{"domain":["pink","green","orange"],"range":["#fbb3b7","#8fc672","#fec55f"]}}}},
{"data":{"name":"segs"},"mark":"rect","encoding":{"x":{"field":"start","type":"quantitative","scale":{"domain":[0,3095],"range":[27.7,687.3]},"axis":null},"x2":{"field":"end"},"y":{"datum":1,"type":"quantitative","scale":{"domain":[0,1],"range":[369,267.5]},"axis":null},"y2":{"datum":0.89},"color":{"field":"state","type":"nominal","legend":null,"scale":{"domain":["pink","green","orange"],"range":["#fbb3b7","#8fc672","#fec55f"]}}}},
{"data":{"name":"segs"},"mark":"rect","encoding":{"x":{"field":"start","type":"quantitative","scale":{"domain":[0,3095],"range":[27.7,687.3]},"axis":null},"x2":{"field":"end"},"y":{"datum":0.6,"type":"quantitative","scale":{"domain":[0,1],"range":[369,267.5]},"axis":null},"y2":{"datum":0.4},"color":{"field":"state","type":"nominal","legend":null,"scale":{"domain":["pink","green","orange"],"range":["#fbb3b7","#8fc672","#fec55f"]}}}},
{"data":{"name":"segs"},"mark":"rect","encoding":{"x":{"field":"start","type":"quantitative","scale":{"domain":[0,3095],"range":[27.7,687.3]},"axis":null},"x2":{"field":"end"},"y":{"datum":0.1,"type":"quantitative","scale":{"domain":[0,1],"range":[369,267.5]},"axis":null},"y2":{"datum":0},"color":{"field":"state","type":"nominal","legend":null,"scale":{"domain":["pink","green","orange"],"range":["#fbb3b7","#8fc672","#fec55f"]}}}},
{"data":{"values":[{"tick":0.8},{"tick":0.4},{"tick":0.2}]},"mark":{"type":"rule","stroke":"#666666","strokeWidth":0.8,"strokeDash":[1,4]},"encoding":{"x":{"datum":0,"type":"quantitative","scale":{"domain":[0,3095],"range":[27.7,687.3]},"axis":null},"x2":{"datum":3095},"y":{"field":"tick","type":"quantitative","scale":{"domain":[0,1],"range":[369,267.5]},"axis":{"orient":"left","zindex":1,"offset":-24.7,"values":[1,0.8,0.6,0.4,0.2,0],"title":null,"domain":false,"tickColor":"#777777","tickSize":5,"labelColor":"#666666","labelFontSize":7,"labelFont":"Liberation Sans","labelPadding":2,"labelExpr":"datum.value+''"}}}},
{"data":{"values":[{"tick":0}]},"mark":{"type":"point","opacity":0},"encoding":{"x":{"datum":0,"type":"quantitative","scale":{"domain":[0,3095],"range":[27.7,687.3]},"axis":null},"y":{"field":"tick","type":"quantitative","scale":{"domain":[0,1],"range":[369,267.5]},"axis":{"orient":"right","zindex":1,"offset":-18.5,"values":[1,0.8,0.6,0.4,0.2,0],"title":null,"domain":false,"tickColor":"#777777","tickSize":5,"labelColor":"#666666","labelFontSize":7,"labelFont":"Liberation Sans","labelPadding":2,"labelExpr":"datum.value+''"}}}},
{"data":{"name":"bounds"},"mark":{"type":"rule","stroke":"#a6a6a6","strokeWidth":1.2},"encoding":{"x":{"field":"pos","type":"quantitative","scale":{"domain":[0,3095],"range":[27.7,687.3]},"axis":null},"y":{"datum":0,"type":"quantitative","scale":{"domain":[0,1],"range":[369,267.5]},"axis":null},"y2":{"datum":1}}},
{"data":{"values":[{"v":0},{"v":1}]},"mark":{"type":"rule","stroke":"#a6a6a6","strokeWidth":1},"encoding":{"x":{"datum":0,"type":"quantitative","scale":{"domain":[0,3095],"range":[27.7,687.3]},"axis":null},"x2":{"datum":3095},"y":{"field":"v","type":"quantitative","scale":{"domain":[0,1],"range":[369,267.5]},"axis":null}}},
{"data":{"values":[{"text":"•   BAF: 0 ... 1","pos":1.4,"v":1.083}]},"mark":{"type":"text","align":"left","baseline":"middle","font":"Liberation Sans","fontSize":6.5,"fill":"#666666"},"encoding":{"text":{"field":"text"},"x":{"field":"pos","type":"quantitative","scale":{"domain":[0,3095],"range":[27.7,687.3]},"axis":null},"y":{"field":"v","type":"quantitative","scale":{"domain":[0,1],"range":[369,267.5]},"axis":null}}},
{"data":{"name":"labels"},"mark":{"type":"text","baseline":"middle","font":"Liberation Sans","fontSize":6.5,"fill":"#666666"},"encoding":{"text":{"field":"name"},"x":{"field":"mid","type":"quantitative","scale":{"domain":[0,3095],"range":[27.7,687.3]},"axis":null},"y":{"field":"v","type":"quantitative","scale":{"domain":[0,1],"range":[369,267.5]},"axis":null}}},
{"data":{"values":[{"text":"(a)","pos":-83,"v":2.2}]},"mark":{"type":"text","align":"left","baseline":"middle","font":"Open Sans","fontWeight":"bold","fontSize":10,"fill":"#333333"},"encoding":{"text":{"field":"text"},"x":{"field":"pos","type":"quantitative","scale":{"domain":[0,3095],"range":[27.7,687.3]},"axis":null},"y":{"field":"v","type":"quantitative","scale":{"domain":[-1.5,1.5],"range":[133,31]},"axis":null}}},

{"data":{"name":"step"},"mark":{"type":"line","stroke":"#8a8a8a","strokeWidth":2.5},"encoding":{"x":{"field":"pos","type":"quantitative","scale":{"domain":[50500000,51100000],"range":[52.3,667.7]},"axis":{"orient":"bottom","zindex":1,"offset":-49.7,"values":[50500000,50600000,50700000,50800000,50900000,51000000,51100000],"format":"d","title":"Chromosome location","titleFont":"Open Sans","titleFontWeight":"bold","titleFontSize":11.5,"titleColor":"#333333","titleX":359,"titleY":44,"titleBaseline":"middle","titleAnchor":"middle","domainColor":"#a0a0a0","domainWidth":2.5,"tickColor":"#a0a0a0","tickWidth":2,"tickSize":5,"labelColor":"#444444","labelFont":"DejaVu Sans","labelFontSize":10.4,"labelPadding":6,"labelOverlap":false,"labelFlush":false}},"y":{"field":"fit","type":"quantitative","scale":{"domain":[-1.5,1],"range":[678.3,442.3]},"axis":{"orient":"left","zindex":1,"offset":-52.3,"values":[1,0.5,0,-0.5,-1,-1.5],"title":"LRR","titleFont":"Open Sans","titleFontWeight":"bold","titleFontSize":11.5,"titleColor":"#333333","titleX":-37,"titleY":555,"domainColor":"#a0a0a0","domainWidth":2.5,"tickColor":"#a0a0a0","tickWidth":2,"tickSize":4,"labelColor":"#444444","labelFont":"DejaVu Sans","labelFontSize":10.4,"labelPadding":5,"labelExpr":"datum.value+''"}}}},
{"data":{"name":"points"},"mark":{"type":"circle","size":44,"opacity":1,"fill":"#ee1c25"},"encoding":{"x":{"field":"pos","type":"quantitative","scale":{"domain":[50500000,51100000],"range":[52.3,667.7]},"axis":null},"y":{"field":"lrr","type":"quantitative","scale":{"domain":[-1.5,1],"range":[678.3,442.3]},"axis":null}}},
{"data":{"values":[{"text":"(b)","pos":50458760,"v":1.225}]},"mark":{"type":"text","align":"left","baseline":"middle","font":"Open Sans","fontWeight":"bold","fontSize":9.5,"fill":"#333333"},"encoding":{"text":{"field":"text"},"x":{"field":"pos","type":"quantitative","scale":{"domain":[50500000,51100000],"range":[52.3,667.7]},"axis":null},"y":{"field":"v","type":"quantitative","scale":{"domain":[-1.5,1],"range":[678.3,442.3]},"axis":null}}},
{"data":{"name":"connector"},"mark":{"type":"line","stroke":"#111111","strokeWidth":2.2,"strokeDash":[6,1]},"encoding":{"detail":{"field":"side"},"x":{"field":"pos","type":"quantitative","scale":{"domain":[50500000,51100000],"range":[52.3,667.7]},"axis":null},"y":{"field":"v","type":"quantitative","scale":{"domain":[-1.5,1],"range":[678.3,442.3]},"axis":null}}},
{"data":{"values":[{"pos":2466,"v":-0.47}]},"mark":{"type":"point","shape":"M-0.29,0a0.29,1 0 1,0 0.58,0a0.29,1 0 1,0 -0.58,0","size":820,"stroke":"#e8202a","strokeWidth":1.3,"fill":null,"opacity":1},"encoding":{"x":{"field":"pos","type":"quantitative","scale":{"domain":[0,3095],"range":[27.7,687.3]},"axis":null},"y":{"field":"v","type":"quantitative","scale":{"domain":[-1.5,1.5],"range":[133,31]},"axis":null}}}
],
"resolve":{"scale":{"x":"independent","y":"independent","color":"independent"},"axis":{"x":"independent","y":"independent"}}}
